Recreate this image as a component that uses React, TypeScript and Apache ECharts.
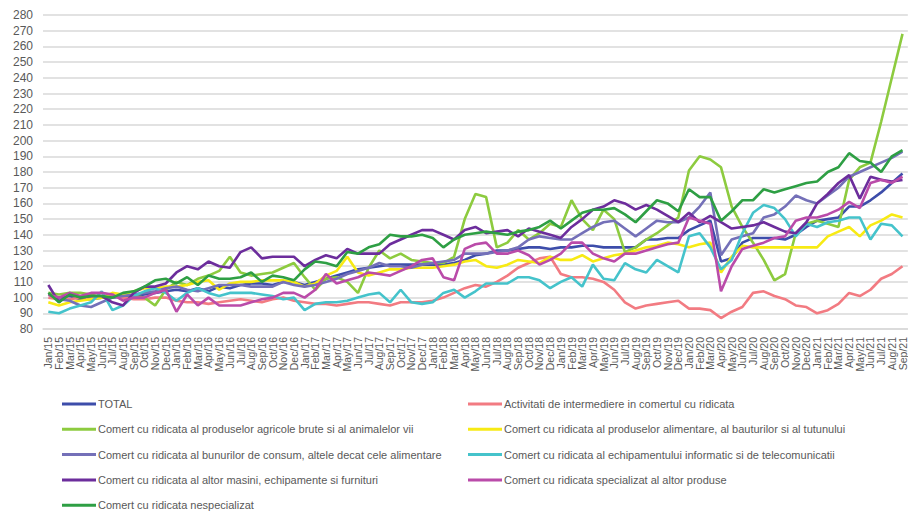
import React, { useEffect, useRef } from "react";
import * as echarts from "echarts";

const categories = [
  "Jan/15","Feb/15","Mar/15","Apr/15","May/15","Jun/15","Jul/15","Aug/15","Sep/15","Oct/15","Nov/15","Dec/15",
  "Jan/16","Feb/16","Mar/16","Apr/16","May/16","Jun/16","Jul/16","Aug/16","Sep/16","Oct/16","Nov/16","Dec/16",
  "Jan/17","Feb/17","Mar/17","Apr/17","May/17","Jun/17","Jul/17","Aug/17","Sep/17","Oct/17","Nov/17","Dec/17",
  "Jan/18","Feb/18","Mar/18","Apr/18","May/18","Jun/18","Jul/18","Aug/18","Sep/18","Oct/18","Nov/18","Dec/18",
  "Jan/19","Feb/19","Mar/19","Apr/19","May/19","Jun/19","Jul/19","Aug/19","Sep/19","Oct/19","Nov/19","Dec/19",
  "Jan/20","Feb/20","Mar/20","Apr/20","May/20","Jun/20","Jul/20","Aug/20","Sep/20","Oct/20","Nov/20","Dec/20",
  "Jan/21","Feb/21","Mar/21","Apr/21","May/21","Jun/21","Jul/21","Aug/21","Sep/21"
];

const total = [
  102,100,101,99,99,100,100,101,101,102,103,104,
  105,104,106,104,107,106,108,109,109,108,110,110,
  108,110,112,114,116,118,119,120,121,121,121,121,
  121,121,122,124,127,128,130,130,131,132,132,131,
  132,132,133,133,132,132,132,132,137,137,138,138,
  143,146,149,123,125,135,138,138,138,137,140,145,
  149,150,151,158,158,162,167,173,179
];
const intermediere = [
  100,99,99,100,100,101,101,100,99,99,100,100,
  98,97,97,96,97,98,99,98,97,99,100,98,
  97,96,96,95,96,97,97,96,95,97,97,97,
  98,100,103,106,108,107,110,114,119,122,125,126,
  115,113,113,112,110,105,97,93,95,96,97,98,
  93,93,92,87,91,94,103,104,101,99,95,94,
  90,92,96,103,101,105,112,115,120
];
const agricole = [
  103,102,103,103,102,100,100,102,101,100,95,105,
  110,108,112,114,117,126,116,114,115,116,119,122,
  113,105,112,113,110,103,119,130,125,128,124,123,
  122,122,126,150,166,164,132,135,143,137,141,147,
  145,162,150,143,156,150,129,132,137,141,146,151,
  181,190,188,183,158,145,135,124,111,115,141,147,
  149,147,145,175,183,186,212,240,268
];
const alimentare = [
  97,95,97,98,99,100,103,102,104,106,106,107,
  107,108,110,111,105,109,110,110,111,111,111,110,
  107,109,114,117,126,116,114,116,118,118,119,119,
  119,120,121,123,124,120,119,121,124,123,122,126,
  124,124,127,123,125,127,128,130,132,133,135,134,
  132,134,135,116,126,133,132,132,132,132,132,132,
  132,139,142,145,139,146,149,153,151
];
const consum = [
  102,99,98,95,94,97,100,101,102,103,104,106,
  107,105,104,106,108,108,108,107,107,107,110,108,
  107,108,110,112,115,117,119,122,120,120,119,121,
  122,123,124,128,128,128,129,130,132,137,139,138,
  137,137,141,145,148,149,144,139,144,149,148,148,
  151,158,167,127,137,139,141,151,153,158,165,162,
  160,165,170,177,180,183,186,189,193
];
const informatic = [
  91,90,93,95,97,104,92,95,101,104,106,103,
  98,103,106,103,101,103,103,103,102,101,99,100,
  92,96,97,97,98,100,102,103,97,105,97,96,
  97,103,105,100,104,109,109,109,113,113,111,106,
  110,113,107,121,112,111,122,118,116,124,120,116,
  139,141,132,118,124,141,154,159,157,150,139,147,
  145,148,149,151,151,137,147,146,139
];
const masini = [
  108,97,103,100,101,101,97,95,103,107,107,109,
  116,120,118,123,120,119,129,132,125,126,126,126,
  120,124,127,125,131,128,128,128,134,137,140,143,
  143,140,137,143,145,141,142,143,139,144,142,140,
  138,145,150,156,158,162,160,156,159,156,152,148,
  154,148,152,148,144,145,146,148,145,142,141,148,
  160,166,173,178,163,177,175,174,175
];
const specializat = [
  102,100,103,101,103,103,102,98,100,100,103,105,
  91,102,95,100,95,95,95,97,99,100,103,103,
  100,105,115,109,111,113,116,115,114,117,120,124,
  125,113,111,131,134,135,128,128,130,127,121,124,
  128,135,135,128,125,123,128,128,130,132,134,135,
  151,149,147,104,120,131,133,135,138,139,149,151,
  151,153,156,161,157,173,175,173,177
];
const nespecializat = [
  103,97,102,100,101,101,100,103,104,107,111,112,
  109,113,108,114,112,112,113,116,110,114,113,111,
  118,123,122,120,129,128,132,134,140,139,139,140,
  138,132,137,140,141,142,141,140,142,143,145,149,
  144,149,154,156,156,157,153,148,155,162,160,155,
  169,164,164,149,155,162,162,169,167,169,171,173,
  174,180,183,192,187,186,180,190,194
];

const seriesDefs = [
  { name: "TOTAL", data: total, color: "#3D4DAA" },
  { name: "Activitati de intermediere in comertul cu ridicata", data: intermediere, color: "#F27B82" },
  { name: "Comert cu ridicata al produselor agricole brute si al animalelor vii", data: agricole, color: "#8DCB3F" },
  { name: "Comert cu ridicata al produselor alimentare, al bauturilor si al tutunului", data: alimentare, color: "#F7EA14" },
  { name: "Comert cu ridicata al bunurilor de consum, altele decat cele alimentare", data: consum, color: "#7470B8" },
  { name: "Comert cu ridicata al echipamentului informatic si de telecomunicatii", data: informatic, color: "#45C3CB" },
  { name: "Comert cu ridicata al altor masini, echipamente si furnituri", data: masini, color: "#6C2D9C" },
  { name: "Comert cu ridicata specializat al altor produse", data: specializat, color: "#BA4BA9" },
  { name: "Comert cu ridicata nespecializat", data: nespecializat, color: "#2E9F44" },
];

const leftLegend = [0, 2, 4, 6, 8].map((i) => seriesDefs[i].name);
const rightLegend = [1, 3, 5, 7].map((i) => seriesDefs[i].name);

export default function App() {
  const ref = useRef<HTMLDivElement>(null);
  useEffect(() => {
    if (!ref.current) return;
    const chart = echarts.init(ref.current, undefined, { renderer: "svg" });
    const legendCommon = {
      orient: "vertical" as const,
      top: 397,
      padding: 0,
      itemWidth: 34,
      itemHeight: 3,
      itemGap: 11.3,
      icon: "rect",
      textStyle: {
        fontFamily: "Liberation Sans",
        fontSize: 11,
        color: "#595959",
        lineHeight: 14,
        padding: [0, 0, 0, -3],
      },
    };
    chart.setOption({
      animation: false,
      backgroundColor: "#ffffff",
      grid: { left: 43, top: 15, width: 866, height: 314 },
      xAxis: {
        type: "category",
        data: categories,
        boundaryGap: true,
        axisLine: { show: true, lineStyle: { color: "#D9D9D9", width: 1.5 } },
        axisTick: { show: false },
        axisLabel: {
          interval: 0,
          rotate: 90,
          fontFamily: "Liberation Sans",
          fontSize: 10.5,
          color: "#595959",
          margin: 8,
        },
      },
      yAxis: {
        type: "value",
        min: 80,
        max: 280,
        interval: 10,
        axisLine: { show: false },
        axisTick: { show: false },
        axisLabel: {
          fontFamily: "Liberation Sans",
          fontSize: 12,
          color: "#595959",
          margin: 10,
        },
        splitLine: { lineStyle: { color: "#D9D9D9", width: 1.5 } },
      },
      legend: [
        { ...legendCommon, left: 62, data: leftLegend },
        { ...legendCommon, left: 468, data: rightLegend },
      ],
      series: seriesDefs.map((s) => ({
        name: s.name,
        type: "line",
        data: s.data,
        symbol: "none",
        showSymbol: false,
        color: s.color,
        itemStyle: { color: s.color },
        lineStyle: { color: s.color, width: 2.6 },
      })),
    });
    return () => chart.dispose();
  }, []);
  return (
    <div
      ref={ref}
      style={{ position: "fixed", left: 0, top: 0, width: 908, height: 513, background: "#fff" }}
    />
  );
}
